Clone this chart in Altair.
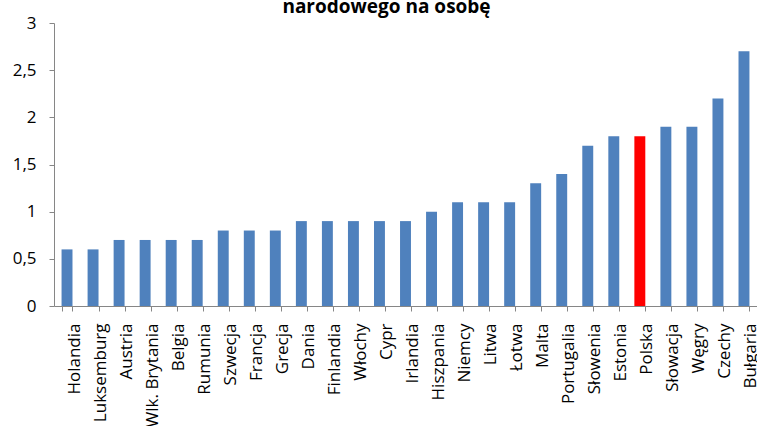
import altair as alt
import pandas as pd

# Kraje UE uporządkowane rosnąco według wartości wskaźnika
countries = [
    "Holandia", "Luksemburg", "Austria", "Wlk. Brytania", "Belgia", "Rumunia",
    "Szwecja", "Francja", "Grecja", "Dania", "Finlandia", "Włochy", "Cypr",
    "Irlandia", "Hiszpania", "Niemcy", "Litwa", "Łotwa", "Malta", "Portugalia",
    "Słowenia", "Estonia", "Polska", "Słowacja", "Węgry", "Czechy", "Bułgaria",
]
values = [
    0.6, 0.6, 0.7, 0.7, 0.7, 0.7,
    0.8, 0.8, 0.8, 0.9, 0.9, 0.9, 0.9,
    0.9, 1.0, 1.1, 1.1, 1.1, 1.3, 1.4,
    1.7, 1.8, 1.8, 1.9, 1.9, 2.2, 2.7,
]
y_ticks = [0, 0.5, 1, 1.5, 2, 2.5, 3]
highlight = "Polska"

df = pd.DataFrame({"kraj": countries, "wartosc": values})

FONT = "Open Sans"
AXIS_GREY = "#868686"

chart = (
    alt.Chart(df)
    .mark_bar()
    .encode(
        x=alt.X(
            "kraj:N",
            sort=countries,
            scale=alt.Scale(paddingInner=0.58, paddingOuter=0.29),
            axis=alt.Axis(
                title=None,
                labelAngle=-90,
                labelFont=FONT,
                labelFontSize=17,
                labelColor="#000000",
                labelPadding=12,
                labelBaseline="line-top",
                labelLineHeight=14,
                domainColor=AXIS_GREY,
                tickColor=AXIS_GREY,
                tickSize=5,
                tickBand="extent",
                labelOverlap=False,
            ),
        ),
        y=alt.Y(
            "wartosc:Q",
            scale=alt.Scale(domain=[0, 3], nice=False),
            axis=alt.Axis(
                title=None,
                values=y_ticks,
                labelExpr="replace(format(datum.value, '.1~f'), '.', ',')",
                labelFont=FONT,
                labelFontSize=17,
                labelColor="#000000",
                labelPadding=13,
                domainColor=AXIS_GREY,
                tickColor=AXIS_GREY,
                tickSize=5,
                grid=False,
            ),
        ),
        color=alt.condition(
            alt.datum.kraj == highlight,
            alt.value("#FF0000"),
            alt.value("#4F81BD"),
        ),
    )
    .properties(
        width=703,
        height=283,
        padding={"left": 54, "top": 23, "right": 0, "bottom": 120},
        autosize=alt.AutoSizeParams(type="none"),
        title=alt.TitleParams(
            "narodowego na osobę",
            font=FONT,
            fontSize=19,
            fontWeight="bold",
            color="#000000",
            anchor="middle",
            dx=-19,
            dy=3,
            baseline="top",
            offset=0,
        ),
    )
    .configure_view(stroke=None)
)

chart.save("out.html", embed_options={"renderer": "svg", "actions": False})
